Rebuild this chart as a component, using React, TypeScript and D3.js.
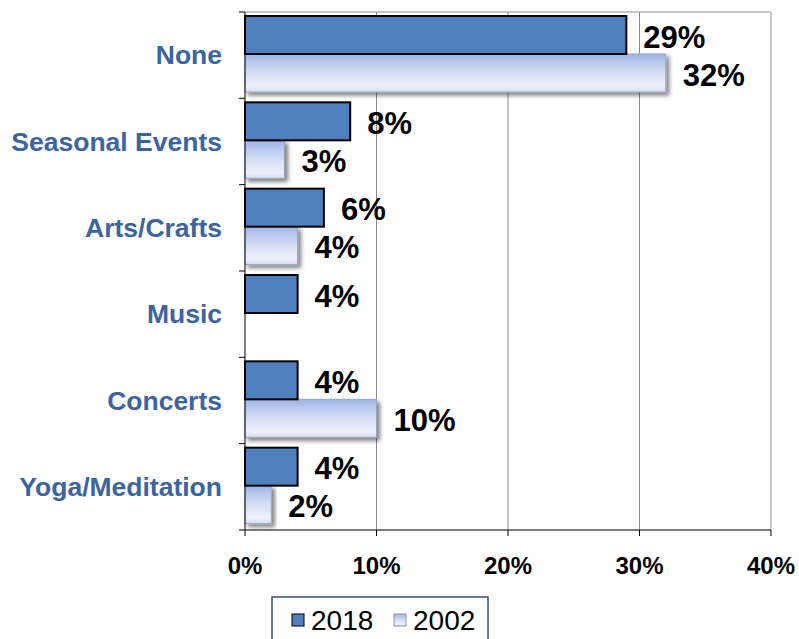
import React from "react";
import * as d3 from "d3";

const categories = ["None", "Seasonal Events", "Arts/Crafts", "Music", "Concerts", "Yoga/Meditation"];
const values2018: (number | null)[] = [29, 8, 6, 4, 4, 4];
const values2002: (number | null)[] = [32, 3, 4, null, 10, 2];
const xTicks = [0, 10, 20, 30, 40];
const seriesNames = ["2018", "2002"];

const W = 799;
const H = 639;
const left = 245;
const right = 771;
const top = 12;
const bottom = 530;

export default function App() {
  const x = d3.scaleLinear().domain([0, 40]).range([left, right]);
  const y = d3.scaleBand<string>().domain(categories).range([top, bottom]).paddingInner(0).paddingOuter(0);
  const inner = d3.scaleBand<string>().domain(seriesNames).range([4, 80]).paddingOuter(0).paddingInner(0);
  const bw = inner.bandwidth();
  const font = "Liberation Sans, Arial, sans-serif";

  return (
    <svg width={W} height={H} style={{ position: "absolute", left: 0, top: 0, background: "#fff" }}>
      <defs>
        <linearGradient id="lightGrad" x1="0" y1="0" x2="0" y2="1">
          <stop offset="0%" stopColor="#a0b5e6" />
          <stop offset="50%" stopColor="#d6def4" />
          <stop offset="85%" stopColor="#eef1fa" />
          <stop offset="100%" stopColor="#d6dcef" />
        </linearGradient>
        <filter id="shadow" x="-10%" y="-20%" width="130%" height="160%">
          <feGaussianBlur in="SourceAlpha" stdDeviation="2.2" />
          <feOffset dx="3" dy="3" result="b" />
          <feComponentTransfer>
            <feFuncA type="linear" slope="0.5" />
          </feComponentTransfer>
          <feMerge>
            <feMergeNode />
            <feMergeNode in="SourceGraphic" />
          </feMerge>
        </filter>
      </defs>

      {/* plot border */}
      <line x1={left} x2={right} y1={top} y2={top} stroke="#c8c8c8" strokeWidth={2} />
      <line x1={right} x2={right} y1={top} y2={bottom} stroke="#c8c8c8" strokeWidth={2} />

      {/* gridlines */}
      {xTicks.slice(1, -1).map((t) => (
        <line key={t} x1={x(t)} x2={x(t)} y1={top} y2={bottom} stroke="#8a8a8a" strokeWidth={1} />
      ))}

      {/* bars */}
      {categories.map((c, i) => {
        const y0 = y(c)!;
        const v18 = values2018[i];
        const v02 = values2002[i];
        return (
          <g key={c}>
            {v02 != null && (
              <rect
                x={x(0)}
                y={y0 + inner("2002")!}
                width={x(v02) - x(0)}
                height={bw}
                fill="url(#lightGrad)"
                stroke="#9aa6bf"
                strokeWidth={1}
                filter="url(#shadow)"
              />
            )}
            {v18 != null && (
              <rect
                x={x(0)}
                y={y0 + inner("2018")!}
                width={x(v18) - x(0)}
                height={bw}
                fill="#4f80bd"
                stroke="#000"
                strokeWidth={2}
              />
            )}
            {v18 != null && (
              <text
                x={x(v18) + 17}
                y={y0 + inner("2018")! + bw / 2 + 2}
                dominantBaseline="central"
                fontFamily={font}
                fontWeight="bold"
                fontSize={31}
                fill="#000"
              >
                {v18}%
              </text>
            )}
            {v02 != null && (
              <text
                x={x(v02) + 17}
                y={y0 + inner("2002")! + bw / 2 + 2}
                dominantBaseline="central"
                fontFamily={font}
                fontWeight="bold"
                fontSize={31}
                fill="#000"
              >
                {v02}%
              </text>
            )}
            <text
              x={222}
              y={y0 + y.bandwidth() / 2}
              textAnchor="end"
              dominantBaseline="central"
              fontFamily={font}
              fontWeight="bold"
              fontSize={26.5}
              fill="#3c64a0"
            >
              {c}
            </text>
          </g>
        );
      })}

      {/* axes */}
      <line x1={left} x2={left} y1={top} y2={bottom} stroke="#000" strokeWidth={1} />
      <line x1={left} x2={right} y1={bottom} y2={bottom} stroke="#000" strokeWidth={1} />
      {d3.range(categories.length + 1).map((i) => {
        const yy = top + i * y.step();
        return <line key={i} x1={left - 6} x2={left} y1={yy} y2={yy} stroke="#000" strokeWidth={1} />;
      })}
      {xTicks.map((t) => (
        <g key={t}>
          <line x1={x(t)} x2={x(t)} y1={bottom} y2={bottom + 6} stroke="#000" strokeWidth={1} />
          <text
            x={x(t)}
            y={565}
            textAnchor="middle"
            dominantBaseline="central"
            fontFamily={font}
            fontWeight="bold"
            fontSize={24}
            fill="#000"
          >
            {t}%
          </text>
        </g>
      ))}

      {/* legend */}
      <rect x={272} y={597} width={216} height={50} fill="#fff" stroke="#3c4f78" strokeWidth={1.5} />
      <rect x={292} y={614} width={12} height={12} fill="#4f80bd" stroke="#000" strokeWidth={1} />
      <text x={311} y={620} dominantBaseline="central" fontFamily={font} fontSize={28} fill="#000">
        {seriesNames[0]}
      </text>
      <rect x={394} y={614} width={12} height={12} fill="url(#lightGrad)" stroke="#8a94ad" strokeWidth={1} />
      <text x={413} y={620} dominantBaseline="central" fontFamily={font} fontSize={28} fill="#000">
        {seriesNames[1]}
      </text>
    </svg>
  );
}
